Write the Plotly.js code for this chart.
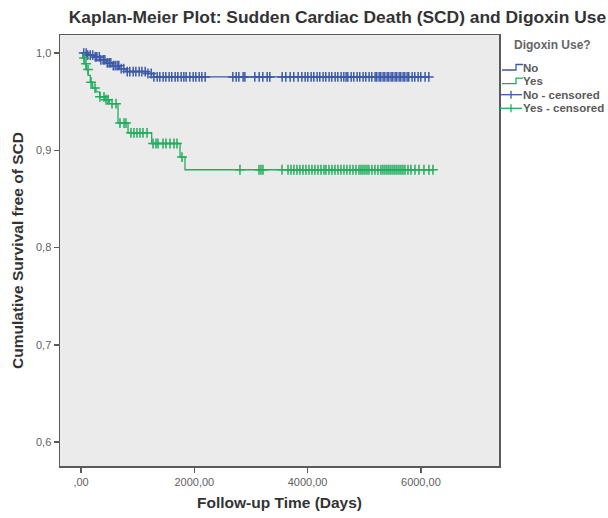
<!DOCTYPE html>
<html>
<head>
<meta charset="utf-8">
<script src="https://cdn.plot.ly/plotly-3.0.1.min.js"></script>
<style>
  html, body { margin: 0; padding: 0; background: #fff; }
  #chart { width: 608px; height: 518px; }
</style>
</head>
<body>
<div id="chart"></div>
<script>
// Kaplan-Meier estimates: event times (days) and survival after each step
const noTimes = [0, 110, 230, 330, 450, 560, 680, 800, 1180, 1280];
const noSurv  = [1.0, 0.998, 0.996, 0.993, 0.990, 0.987, 0.984, 0.981, 0.979, 0.9755];
const noEnd = 6140;

const yesTimes = [0, 30, 60, 95, 125, 165, 205, 265, 330, 420, 500, 653, 830, 1248, 1748, 1836];
const yesSurv  = [1.0, 0.995, 0.989, 0.983, 0.977, 0.970, 0.964, 0.960, 0.955, 0.952, 0.948, 0.928, 0.918, 0.907, 0.893, 0.880];
const yesEnd = 6213;

// censored follow-up times (days)
const noCensored = [48, 91, 118, 163, 207, 251, 279, 322, 350, 392, 421, 463, 497, 526, 569, 603, 638, 667, 709, 755,
  816, 861, 921, 968, 1027, 1074, 1133, 1181, 1239, 1286, 1345, 1391, 1450, 1497, 1556, 1602, 1662, 1709, 1768, 1815,
  1856, 1921, 1980, 2027, 2086, 2133, 2192, 2680, 2739, 2786, 2862, 2893, 3068, 3145, 3209, 3286, 3333, 3551, 3615,
  3692, 3756, 3833, 3898, 3957, 4004, 4063, 4109, 4168, 4215, 4274, 4321, 4380, 4427, 4486, 4533, 4592, 4639, 4680,
  4710, 4769, 4815, 4874, 4921, 4980, 5027, 5086, 5133, 5192, 5221, 5263, 5292, 5333, 5363, 5404, 5433, 5474, 5504,
  5545, 5574, 5616, 5645, 5686, 5716, 5757, 5786, 5845, 5892, 5951, 5998, 6074, 6140];

const yesCensored = [53, 88, 124, 177, 247, 335, 406, 441, 477, 547, 618, 688, 759, 794, 882, 935, 988, 1041, 1094,
  1165, 1271, 1324, 1359, 1447, 1500, 1571, 1641, 1694, 1783, 2806, 3142, 3177, 3212, 3548, 3654, 3707, 3759, 3812,
  3865, 3918, 3971, 4024, 4077, 4130, 4183, 4236, 4289, 4324, 4377, 4430, 4483, 4536, 4589, 4642, 4695, 4748, 4801,
  4854, 4907, 4942, 4977, 5013, 5048, 5083, 5136, 5189, 5242, 5295, 5330, 5366, 5401, 5436, 5471, 5507, 5542, 5577,
  5613, 5648, 5683, 5719, 5772, 5825, 5895, 5966, 6054, 6142, 6213];

const xTickVals = [0, 2000, 4000, 6000];
const xTickText = [',00', '2000,00', '4000,00', '6000,00'];
const yTickVals = [0.6, 0.7, 0.8, 0.9, 1.0];
const yTickText = ['0,6', '0,7', '0,8', '0,9', '1,0'];

const legendTitle = 'Digoxin Use?';
const legendLabels = ['No', 'Yes', 'No - censored', 'Yes - censored'];

const blue = '#3c5aa8';
const green = '#22ad5e';
const legendColors = [blue, green, blue, green];
const FONT = 'Liberation Sans, Arial, sans-serif';

function survivalAt(times, surv, t) {
  let s = surv[0];
  for (let i = 0; i < times.length; i++) {
    if (times[i] <= t) s = surv[i];
  }
  return s;
}

function stepTrace(times, surv, end, color) {
  return {
    x: times.concat([end]),
    y: surv.concat([surv[surv.length - 1]]),
    mode: 'lines',
    line: { shape: 'hv', color: color, width: 1.3 },
    showlegend: false,
    hoverinfo: 'skip'
  };
}

function censorTrace(cens, times, surv, color) {
  return {
    x: cens,
    y: cens.map(t => survivalAt(times, surv, t)),
    mode: 'markers',
    marker: { symbol: 'cross-thin-open', size: 7, color: color, line: { color: color, width: 1.5 } },
    showlegend: false,
    hoverinfo: 'skip'
  };
}

const data = [
  stepTrace(noTimes, noSurv, noEnd, blue),
  stepTrace(yesTimes, yesSurv, yesEnd, green),
  censorTrace(noCensored, noTimes, noSurv, blue),
  censorTrace(yesCensored, yesTimes, yesSurv, green)
];

// Legend block to the right of the plot frame (paper coordinates)
const M = { l: 60, r: 109, t: 35, b: 52 };
const PW = 608 - M.l - M.r, PH = 518 - M.t - M.b;
const px = v => (v - M.l) / PW;
const py = v => (518 - M.b - v) / PH;

const annotations = [{
  text: '<b>' + legendTitle + '</b>', xref: 'paper', yref: 'paper', x: px(512), y: py(45),
  xanchor: 'left', yanchor: 'middle', showarrow: false,
  font: { family: FONT, size: 12, color: '#666' }
}];
const shapes = [];
legendLabels.forEach((lab, i) => {
  const cy = 67.5 + i * 13.6;
  annotations.push({
    text: '<b>' + lab + '</b>', xref: 'paper', yref: 'paper', x: px(521), y: py(cy),
    xanchor: 'left', yanchor: 'middle', showarrow: false,
    font: { family: FONT, size: 11.5, color: '#5a5a5a' }
  });
  const c = legendColors[i];
  if (i < 2) {
    // step-shaped key
    shapes.push({
      type: 'path', xref: 'paper', yref: 'paper',
      path: `M ${px(502)} ${py(cy + 2.5)} L ${px(516)} ${py(cy + 2.5)} L ${px(516)} ${py(cy - 3)} L ${px(523)} ${py(cy - 3)}`,
      line: { color: c, width: 1.3 }
    });
  } else {
    shapes.push({ type: 'line', xref: 'paper', yref: 'paper', x0: px(500), x1: px(522), y0: py(cy), y1: py(cy), line: { color: c, width: 1.3 } });
    shapes.push({ type: 'line', xref: 'paper', yref: 'paper', x0: px(511), x1: px(511), y0: py(cy - 4), y1: py(cy + 4), line: { color: c, width: 1.3 } });
  }
});

const axisCommon = {
  showgrid: false,
  zeroline: false,
  showline: true,
  mirror: true,
  linecolor: '#5a5a5a',
  linewidth: 1.5,
  ticks: 'outside',
  ticklen: 5,
  tickcolor: '#5a5a5a',
  tickwidth: 1.5,
  tickfont: { family: FONT, size: 11, color: '#5f5f5f' }
};

const layout = {
  width: 608,
  height: 518,
  margin: M,
  paper_bgcolor: '#ffffff',
  plot_bgcolor: '#ebebeb',
  title: {
    text: '<b>Kaplan-Meier Plot: Sudden Cardiac Death (SCD) and Digoxin Use</b>',
    font: { family: FONT, size: 17.4, color: '#333' },
    x: 0.555, xanchor: 'center', y: 0.967, yanchor: 'middle'
  },
  xaxis: Object.assign({}, axisCommon, {
    range: [-371, 7379],
    tickvals: xTickVals,
    ticktext: xTickText,
    title: { text: '<b>Follow-up Time (Days)</b>', font: { family: FONT, size: 15.5, color: '#333' }, standoff: 10 }
  }),
  yaxis: Object.assign({}, axisCommon, {
    range: [0.5753, 1.0186],
    tickvals: yTickVals,
    ticktext: yTickText,
    title: { text: '<b>Cumulative Survival free of SCD</b>', font: { family: FONT, size: 15.5, color: '#333' }, standoff: 8 }
  }),
  showlegend: false,
  annotations: annotations,
  shapes: shapes
};

Plotly.newPlot('chart', data, layout, { displayModeBar: false, staticPlot: true });
</script>
</body>
</html>
